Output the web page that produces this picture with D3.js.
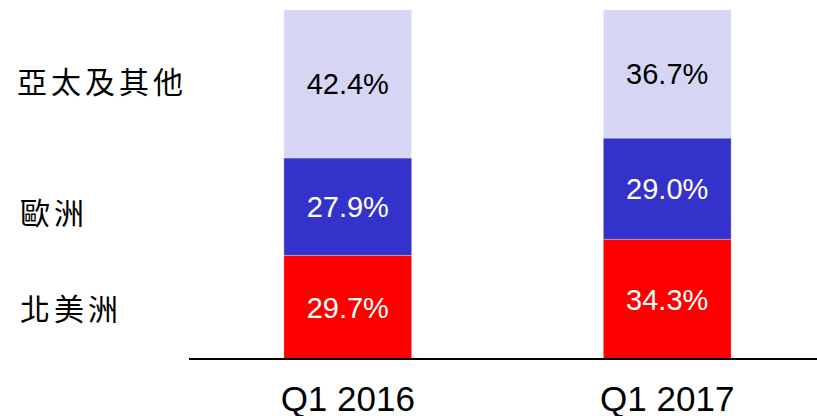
<!DOCTYPE html>
<html>
<head>
<meta charset="utf-8">
<script src="https://cdn.jsdelivr.net/npm/d3@7"></script>
<style>
  body { margin: 0; background: #fff; }
</style>
</head>
<body>
<div id="chart"></div>
<script>
// data
var quarters = ["Q1 2016", "Q1 2017"];
var regions = ["北美洲", "歐洲", "亞太及其他"];
var northAmerica = [29.7, 34.3];
var europe = [27.9, 29.0];
var asiaOther = [42.4, 36.7];
var colors = ["#ff0000", "#3333cc", "#d6d6f4"];
var labelColors = ["#ffffff", "#ffffff", "#000000"];

var width = 817, height = 416;

var svg = d3.select("#chart")
  .append("svg")
    .attr("width", width)
    .attr("height", height);

// build a table for the stack
var table = quarters.map(function(q, i) {
  return { quarter: q, na: northAmerica[i], eu: europe[i], ap: asiaOther[i] };
});
var keys = ["na", "eu", "ap"];
var series = d3.stack().keys(keys)(table);

// scales
var x = d3.scaleBand()
  .domain(quarters)
  .range([189, 826])
  .paddingInner(0.6)
  .paddingOuter(0.297);

var y = d3.scaleLinear()
  .domain([0, 100])
  .range([359, 10]);

// bars
var layer = svg.selectAll("g.layer")
  .data(series)
  .enter().append("g")
    .attr("class", "layer")
    .attr("fill", function(d, i) { return colors[i]; });

layer.selectAll("rect")
  .data(function(d) { return d; })
  .enter().append("rect")
    .attr("x", function(d) { return x(d.data.quarter); })
    .attr("y", function(d) { return y(d[1]); })
    .attr("width", x.bandwidth())
    .attr("height", function(d) { return y(d[0]) - y(d[1]); })
    .attr("stroke", "#ffffff")
    .attr("stroke-opacity", 0.35)
    .attr("stroke-width", 0.8);

// value labels
series.forEach(function(s, i) {
  svg.selectAll("text.val" + i)
    .data(s)
    .enter().append("text")
      .attr("class", "val" + i)
      .attr("x", function(d) { return x(d.data.quarter) + x.bandwidth() / 2; })
      .attr("y", function(d) { return (y(d[0]) + y(d[1])) / 2; })
      .attr("dy", "0.36em")
      .attr("text-anchor", "middle")
      .style("font-family", "Liberation Sans, Arial, sans-serif")
      .style("font-size", "29px")
      .style("fill", labelColors[i])
      .text(function(d) { return (d[1] - d[0]).toFixed(1) + "%"; });
});

// x axis
var xAxis = svg.append("g")
  .attr("transform", "translate(0," + 359 + ")")
  .call(d3.axisBottom(x).tickSize(0).tickSizeOuter(0).tickPadding(27));
xAxis.select(".domain")
  .attr("d", "M189,0H817")
  .attr("stroke", "#000")
  .attr("stroke-width", 2);
xAxis.selectAll("text")
  .style("font-family", "Liberation Sans, Arial, sans-serif")
  .style("font-size", "35px")
  .style("fill", "#000");

// region labels on the left
svg.selectAll("text.region")
  .data(regions)
  .enter().append("text")
    .attr("class", "region")
    .attr("x", function(d, i) { return i == 2 ? 17 : 20; })
    .attr("y", function(d, i) { return [309, 213, 82][i]; })
    .attr("dy", "0.36em")
    .style("font-family", "Noto Sans CJK TC, sans-serif")
    .style("font-size", "30px")
    .style("letter-spacing", "4px")
    .style("fill", "#000")
    .text(function(d) { return d; });
</script>
</body>
</html>
